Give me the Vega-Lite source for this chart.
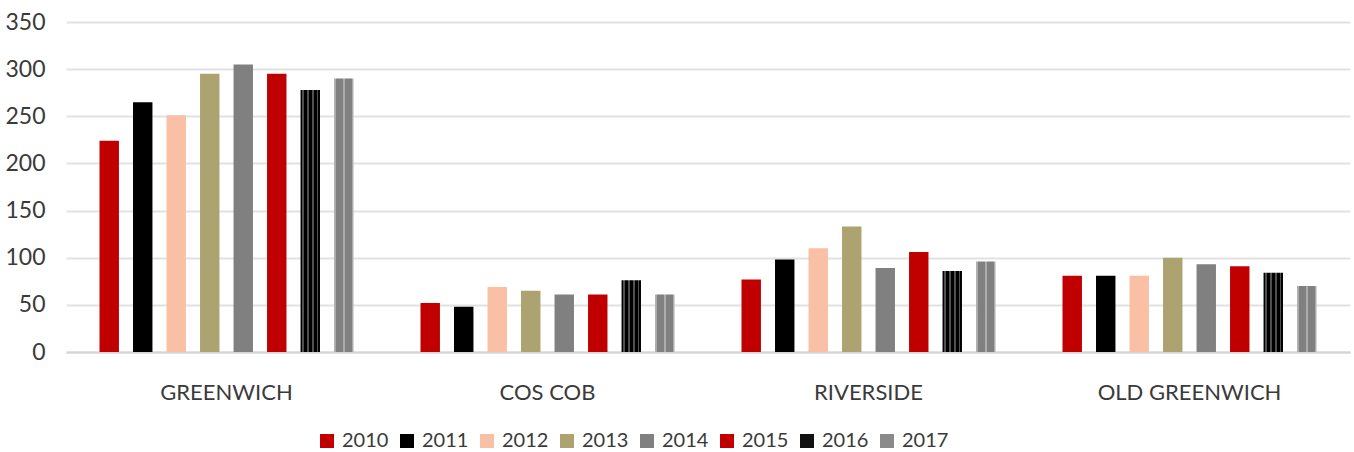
{
  "$schema": "https://vega.github.io/schema/vega-lite/v6.json",
  "width": 1284,
  "height": 330,
  "autosize": {"type": "none"},
  "padding": {"left": 66, "top": 22, "right": 4, "bottom": 100},
  "background": "white",
  "config": {"view": {"stroke": null}, "font": "Lato"},
  "data": {
    "values": [
      {"area": "GREENWICH", "year": "2010", "value": 224},
      {"area": "GREENWICH", "year": "2011", "value": 265},
      {"area": "GREENWICH", "year": "2012", "value": 251},
      {"area": "GREENWICH", "year": "2013", "value": 295},
      {"area": "GREENWICH", "year": "2014", "value": 305},
      {"area": "GREENWICH", "year": "2015", "value": 295},
      {"area": "GREENWICH", "year": "2016", "value": 278},
      {"area": "GREENWICH", "year": "2017", "value": 290},
      {"area": "COS COB", "year": "2010", "value": 52},
      {"area": "COS COB", "year": "2011", "value": 48},
      {"area": "COS COB", "year": "2012", "value": 69},
      {"area": "COS COB", "year": "2013", "value": 65},
      {"area": "COS COB", "year": "2014", "value": 61},
      {"area": "COS COB", "year": "2015", "value": 61},
      {"area": "COS COB", "year": "2016", "value": 76},
      {"area": "COS COB", "year": "2017", "value": 61},
      {"area": "RIVERSIDE", "year": "2010", "value": 77},
      {"area": "RIVERSIDE", "year": "2011", "value": 98},
      {"area": "RIVERSIDE", "year": "2012", "value": 110},
      {"area": "RIVERSIDE", "year": "2013", "value": 133},
      {"area": "RIVERSIDE", "year": "2014", "value": 89},
      {"area": "RIVERSIDE", "year": "2015", "value": 106},
      {"area": "RIVERSIDE", "year": "2016", "value": 86},
      {"area": "RIVERSIDE", "year": "2017", "value": 96},
      {"area": "OLD GREENWICH", "year": "2010", "value": 81},
      {"area": "OLD GREENWICH", "year": "2011", "value": 81},
      {"area": "OLD GREENWICH", "year": "2012", "value": 81},
      {"area": "OLD GREENWICH", "year": "2013", "value": 100},
      {"area": "OLD GREENWICH", "year": "2014", "value": 93},
      {"area": "OLD GREENWICH", "year": "2015", "value": 91},
      {"area": "OLD GREENWICH", "year": "2016", "value": 84},
      {"area": "OLD GREENWICH", "year": "2017", "value": 70}
    ]
  },
  "mark": {"type": "bar"},
  "encoding": {
    "x": {
      "field": "area",
      "type": "nominal",
      "sort": ["GREENWICH", "COS COB", "RIVERSIDE", "OLD GREENWICH"],
      "scale": {"paddingInner": 0, "paddingOuter": 0},
      "axis": {
        "title": null,
        "labelAngle": 0,
        "labelFontSize": 22,
        "labelColor": "#3a3a3a",
        "labelLimit": 0,
        "ticks": false,
        "domainColor": "#d4d4d4",
        "domainWidth": 2,
        "labelPadding": 30
      }
    },
    "xOffset": {
      "field": "year",
      "type": "nominal",
      "scale": {"paddingInner": 0.42, "paddingOuter": 1.045}
    },
    "y": {
      "field": "value",
      "type": "quantitative",
      "scale": {"domain": [0, 350]},
      "axis": {
        "title": null,
        "values": [0, 50, 100, 150, 200, 250, 300, 350],
        "grid": true,
        "gridColor": "#e2e2e2",
        "gridWidth": 2,
        "domain": false,
        "ticks": false,
        "labelFontSize": 23,
        "labelColor": "#3a3a3a",
        "labelPadding": 21
      }
    },
    "fill": {
      "condition": [
        {
          "test": "datum.year == '2016'",
          "value": {
            "gradient": "linear", "x1": 0, "y1": 0, "x2": 1, "y2": 0,
            "stops": [
              {"offset": 0, "color": "#000000"},
              {"offset": 0.1, "color": "#000000"},
              {"offset": 0.1, "color": "#505050"},
              {"offset": 0.17, "color": "#505050"},
              {"offset": 0.17, "color": "#000000"},
              {"offset": 0.35, "color": "#000000"},
              {"offset": 0.35, "color": "#505050"},
              {"offset": 0.42, "color": "#505050"},
              {"offset": 0.42, "color": "#000000"},
              {"offset": 0.6, "color": "#000000"},
              {"offset": 0.6, "color": "#505050"},
              {"offset": 0.67, "color": "#505050"},
              {"offset": 0.67, "color": "#000000"},
              {"offset": 0.85, "color": "#000000"},
              {"offset": 0.85, "color": "#505050"},
              {"offset": 0.92, "color": "#505050"},
              {"offset": 0.92, "color": "#000000"},
              {"offset": 1, "color": "#000000"}
            ]
          }
        },
        {
          "test": "datum.year == '2017'",
          "value": {
            "gradient": "linear", "x1": 0, "y1": 0, "x2": 1, "y2": 0,
            "stops": [
              {"offset": 0, "color": "#acacac"},
              {"offset": 0.08, "color": "#acacac"},
              {"offset": 0.08, "color": "#808080"},
              {"offset": 0.45, "color": "#808080"},
              {"offset": 0.45, "color": "#acacac"},
              {"offset": 0.55, "color": "#acacac"},
              {"offset": 0.55, "color": "#808080"},
              {"offset": 0.92, "color": "#808080"},
              {"offset": 0.92, "color": "#acacac"},
              {"offset": 1, "color": "#acacac"}
            ]
          }
        }
      ],
      "field": "year",
      "type": "nominal",
      "scale": {
        "domain": ["2010", "2011", "2012", "2013", "2014", "2015", "2016", "2017"],
        "range": ["#c00000", "#000000", "#f9c0a5", "#ada370", "#808080", "#c00000", "#111111", "#8a8a8a"]
      },
      "legend": {
        "title": null,
        "orient": "none",
        "legendX": 251,
        "legendY": 409,
        "direction": "horizontal",
        "symbolType": "square",
        "symbolSize": 196,
        "symbolStrokeWidth": 0,
        "labelFontSize": 20,
        "labelColor": "#3a3a3a",
        "labelOffset": 5,
        "columnPadding": 8
      }
    }
  }
}
